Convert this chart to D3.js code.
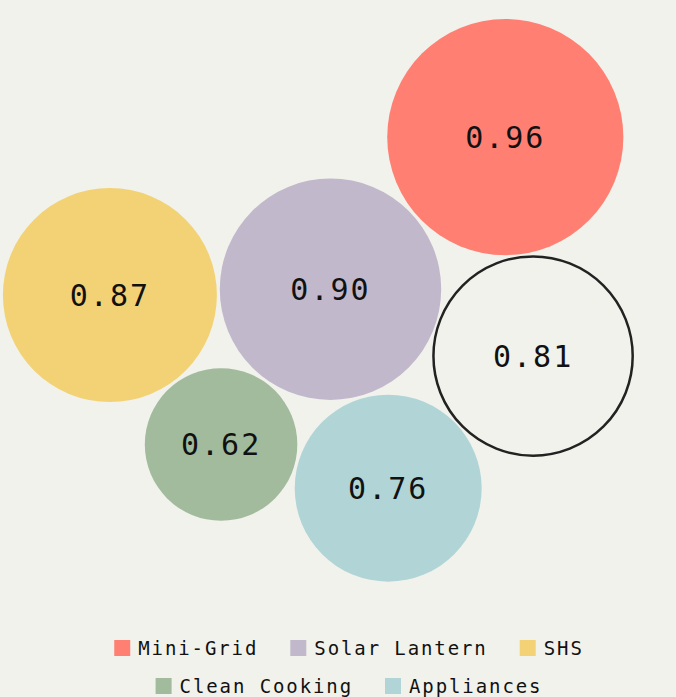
<!DOCTYPE html>
<html>
<head>
<meta charset="utf-8">
<script src="https://cdn.jsdelivr.net/npm/d3@7"></script>
<style>
	body { margin: 0; background: #f2f2ec; }
	svg { display: block; }
	text { font-family: 'DejaVu Sans Mono', 'Liberation Mono', monospace; fill: #111; }
</style>
</head>
<body>
<svg id="bubbles"></svg>
<script>
// node order kept as in the source data (the force layout depends on it)
const categories = ['Solar Lantern', 'Overall', 'Clean Cooking', 'Mini-Grid', 'Appliances', 'SHS'];
const values = [0.90, 0.81, 0.62, 0.96, 0.76, 0.87];

const legendRows = [
	['Mini-Grid', 'Solar Lantern', 'SHS'],
	['Clean Cooking', 'Appliances']
];
const colorDomain = ['Mini-Grid', 'Solar Lantern', 'SHS', 'Clean Cooking', 'Appliances'];
const colorRange = ['#ff8073', '#c1b8cb', '#f3d276', '#a2bb9c', '#b1d5d6'];

const width = 676;
const height = 697;
const centerX = 348;
const centerY = 335;
// turn the settled cluster so it sits like the original
const layoutRotation = -128.1;

const color = d3.scaleOrdinal().domain(colorDomain).range(colorRange);
const radius = d3.scaleLinear().domain([0, 1]).range([0, 123]);

const svg = d3.select('#bubbles').attr('width', width).attr('height', height);

const nodes = categories.map((name, i) => ({ name: name, value: values[i] }));

const simulation = d3
	.forceSimulation(nodes)
	.force('x', d3.forceX(centerX).strength(0.2))
	.force('y', d3.forceY(centerY).strength(0.2))
	.force('collide', d3.forceCollide((d) => radius(d.value) + 1.5))
	.stop();

for (let i = 0; i < 300; i++) simulation.tick();

const meanX = d3.mean(nodes, (d) => d.x);
const meanY = d3.mean(nodes, (d) => d.y);
const angle = (layoutRotation * Math.PI) / 180;
nodes.forEach((d) => {
	const px = d.x - meanX;
	const py = d.y - meanY;
	d.x = centerX + px * Math.cos(angle) - py * Math.sin(angle);
	d.y = centerY + px * Math.sin(angle) + py * Math.cos(angle);
});

const bubble = svg
	.append('g')
	.selectAll('g')
	.data(nodes)
	.enter()
	.append('g')
	.attr('transform', (d) => 'translate(' + d.x + ',' + d.y + ')');

bubble
	.append('circle')
	.attr('r', (d) => radius(d.value))
	.attr('fill', (d) => (colorDomain.includes(d.name) ? color(d.name) : 'none'))
	.attr('stroke', (d) => (colorDomain.includes(d.name) ? 'none' : '#222'))
	.attr('stroke-width', 2.5);

bubble
	.append('text')
	.attr('text-anchor', 'middle')
	.attr('dy', '0.36em')
	.style('font-size', '30px')
	.style('letter-spacing', '2px')
	.text((d) => d3.format('.2f')(d.value));

// legend, two centred rows
const legend = svg.append('g');
legendRows.forEach((row, r) => {
	const rowG = legend.append('g');
	let x = 0;
	row.forEach((name) => {
		const item = rowG.append('g').attr('transform', 'translate(' + x + ',0)');
		item.append('rect').attr('x', 0).attr('y', -8).attr('width', 16).attr('height', 16).attr('fill', color(name));
		const label = item
			.append('text')
			.attr('x', 24)
			.attr('dy', '0.35em')
			.style('font-size', '19px')
			.style('letter-spacing', '1.9px')
			.text(name);
		x += 24 + label.node().getComputedTextLength() + 32;
	});
	const rowWidth = x - 32;
	rowG.attr('transform', 'translate(' + (centerX + 1 - rowWidth / 2) + ',' + (648 + r * 38) + ')');
});
</script>
</body>
</html>
